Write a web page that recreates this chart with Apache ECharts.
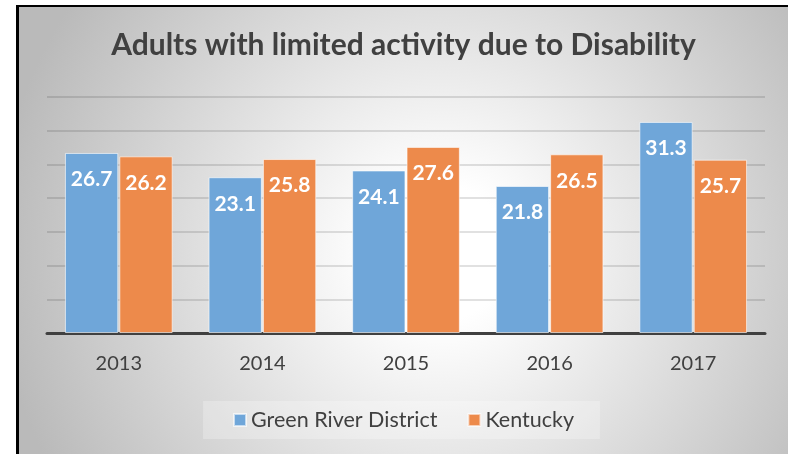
<!DOCTYPE html>
<html>
<head>
<meta charset="utf-8">
<script src="https://cdn.jsdelivr.net/npm/echarts@6/dist/echarts.min.js"></script>
<style>
    html, body { margin: 0; padding: 0; background: #fff; }
    #frame {
        position: absolute; left: 16px; top: 5px;
        width: 772px; height: 449px;
        border-left: 3px solid #000; border-top: 2px solid #000;
        box-sizing: border-box;
    }
    #chart { width: 769px; height: 447px; }
</style>
</head>
<body>
<div id="frame"><div id="chart"></div></div>
<script>
// data
var years = ['2013', '2014', '2015', '2016', '2017'];
var greenRiver = [26.7, 23.1, 24.1, 21.8, 31.3];
var kentucky = [26.2, 25.8, 27.6, 26.5, 25.7];
var seriesNames = ['Green River District', 'Kentucky'];

var font = 'Lato';
var textColor = '#404040';

var mychart = echarts.init(document.getElementById('chart'));

var labelStyle = {
    show: true,
    position: 'insideTop',
    distance: 16,
    color: '#fff',
    fontFamily: font,
    fontWeight: 'bold',
    fontSize: 21
};

var option = {
    backgroundColor: {
        type: 'radial', x: 0.55, y: 0.55, r: 1,
        colorStops: [
            {offset: 0, color: '#ffffff'},
            {offset: 0.15, color: '#ffffff'},
            {offset: 1, color: '#bababa'}
        ]
    },
    title: {
        text: 'Adults with limited activity due to Disability',
        left: 'center',
        top: 18,
        textStyle: {
            fontFamily: font,
            fontWeight: 'bold',
            fontSize: 30,
            color: textColor
        }
    },
    legend: {
        data: seriesNames,
        left: 'center',
        top: 394,
        padding: [8, 26, 8, 30],
        itemWidth: 12,
        itemHeight: 12,
        itemGap: 30,
        icon: 'rect',
        backgroundColor: 'rgba(255,255,255,0.25)',
        textStyle: {
            fontFamily: font,
            fontSize: 21.5,
            color: textColor
        }
    },
    grid: {
        left: 28,
        right: 23,
        top: 90,
        bottom: 121
    },
    xAxis: {
        type: 'category',
        data: years,
        axisTick: {show: false},
        axisLine: {lineStyle: {color: '#404040', width: 3}},
        axisLabel: {
            margin: 21,
            fontFamily: font,
            fontSize: 20,
            color: textColor
        }
    },
    yAxis: {
        type: 'value',
        min: 0,
        max: 35,
        interval: 5,
        axisLabel: {show: false},
        axisLine: {show: false},
        axisTick: {show: false},
        splitLine: {lineStyle: {color: 'rgba(0,0,0,0.16)', width: 1.5}}
    },
    series: [
        {
            name: seriesNames[0],
            type: 'bar',
            data: greenRiver,
            barCategoryGap: '25%',
            barGap: '2%',
            itemStyle: {color: '#6fa6d9', borderColor: 'rgba(255,255,255,0.6)', borderWidth: 1},
            label: labelStyle
        },
        {
            name: seriesNames[1],
            type: 'bar',
            data: kentucky,
            barCategoryGap: '25%',
            barGap: '2%',
            itemStyle: {color: '#ed8a4b', borderColor: 'rgba(255,255,255,0.6)', borderWidth: 1},
            label: labelStyle
        }
    ]
};

mychart.setOption(option);
</script>
</body>
</html>
